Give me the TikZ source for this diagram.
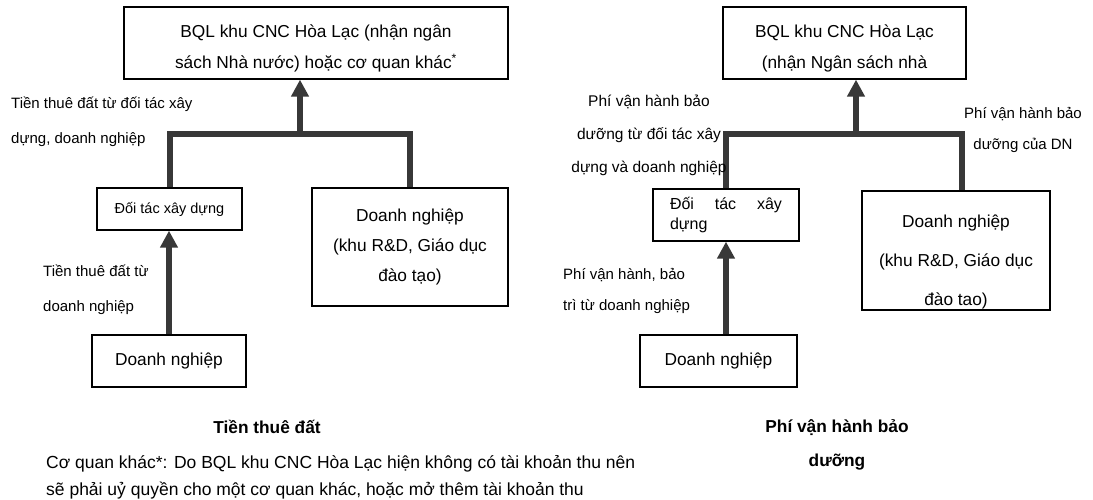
\documentclass[tikz,border=0pt]{standalone}
\usepackage{fontspec}
\setmainfont{Liberation Sans}
\usetikzlibrary{arrows.meta}

\begin{document}
\begin{tikzpicture}[x=1pt, y=-1pt, line join=miter,
    hop/.style={draw, line width=1.3pt, inner sep=0pt, align=center, font=\fontsize{17.3}{31}\selectfont},
    flow/.style={draw=black!78, line width=6pt},
    tip/.style={flow, -{Triangle[width=17pt,length=17pt]}},
    nhan/.style={inner sep=0pt, anchor=west, align=left, font=\fontsize{15}{35}\selectfont},
    tieude/.style={inner sep=0pt, align=center, font=\bfseries\fontsize{17.3}{34}\selectfont}]
  \useasboundingbox (0,0) rectangle (1093,500);
  % Tien thue dat
  \node[hop, minimum width=384pt, minimum height=72pt] (bqlA) at (316,43) {\rule{0pt}{24pt}BQL khu CNC Hòa Lạc (nhận ngân\\sách Nhà nước) hoặc cơ quan khác\textsuperscript{*}};
  \node[hop, minimum width=145pt, minimum height=42pt, font=\fontsize{14.5}{20}\selectfont] (dtxdA) at (169.5,209) {Đối tác xây dựng};
  \node[hop, minimum width=196pt, minimum height=118pt, font=\fontsize{17.3}{30}\selectfont] (dnA) at (410,247) {Doanh nghiệp\\(khu R\&D, Giáo dục\\đào tạo)};
  \node[hop, minimum width=154pt, minimum height=52pt] (dnA2) at (169,361) {Doanh nghiệp};
  \coordinate (jA) at (300,134);
  \draw[flow] (dtxdA.north) |- (jA) -| (dnA.north);
  \draw[tip] (jA) -- (jA |- bqlA.south);
  \draw[tip] (dnA2.north) -- (dnA2.north |- dtxdA.south);
  \node[nhan] (lbA1) at (11,122) {Tiền thuê đất từ đối tác xây\\dựng, doanh nghiệp};
  \node[nhan] (lbA2) at (43,290) {Tiền thuê đất từ\\doanh nghiệp};
  \node[tieude] (ttA) at (267,427) {Tiền thuê đất};
  \node[inner sep=0pt, anchor=west, align=left, font=\fontsize{17.5}{27}\selectfont] (ghichu) at (46,477.5) {Cơ quan khác*: Do BQL khu CNC Hòa Lạc hiện không có tài khoản thu nên\\sẽ phải uỷ quyền cho một cơ quan khác, hoặc mở thêm tài khoản thu};
  % Phi van hanh bao duong
  \node[hop, minimum width=243pt, minimum height=72pt] (bqlB) at (844.5,43) {\rule{0pt}{24pt}BQL khu CNC Hòa Lạc\\(nhận Ngân sách nhà};
  \node[hop, minimum width=146pt, minimum height=52pt, text width=112pt, align=justify, font=\fontsize{16}{20}\selectfont] (dtxdB) at (726,215) {Đối tác xây\linebreak dựng};
  \node[hop, minimum width=188pt, minimum height=119pt] (dnB) at (956,250.5) {};
  \node[inner sep=0pt, align=center, font=\fontsize{17.3}{39}\selectfont] (dnBtxt) at (956,262) {Doanh nghiệp\\(khu R\&D, Giáo dục\\đào tao)};
  \node[hop, minimum width=157pt, minimum height=52pt] (dnB2) at (718.5,361) {Doanh nghiệp};
  \coordinate (jB) at (856,134);
  \draw[flow] (dtxdB.north) |- (jB) -| ([xshift=6pt]dnB.north);
  \draw[tip] (jB) -- (jB |- bqlB.south);
  \draw[tip] (dtxdB.south |- dnB2.north) -- (dtxdB.south);
  \node[nhan, anchor=center, align=center, font=\fontsize{15.5}{33}\selectfont] (lbB1) at (649,135) {Phí vận hành bảo\\dưỡng từ đối tác xây\\dựng và doanh nghiệp};
  \node[nhan, anchor=center, align=center, font=\fontsize{15}{31}\selectfont] (lbB2) at (1023,130) {Phí vận hành bảo\\dưỡng của DN};
  \node[nhan, font=\fontsize{15}{31}\selectfont] (lbB3) at (563,291) {Phí vận hành, bảo\\trì từ doanh nghiệp};
  \node[tieude] (ttB) at (837,445) {Phí vận hành bảo\\dưỡng};
\end{tikzpicture}
\end{document}
